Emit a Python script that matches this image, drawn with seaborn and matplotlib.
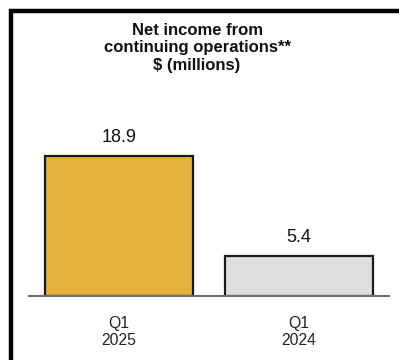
import matplotlib
matplotlib.use("Agg")
import matplotlib.pyplot as plt
import seaborn as sns
import pandas as pd
from matplotlib.lines import Line2D

categories = ["Q1\n2025", "Q1\n2024"]
values = [18.9, 5.4]
value_labels = ["18.9", "5.4"]
colors = ["#E3B23C", "#DEDEDE"]
title = "Net income from\ncontinuing operations**\n$ (millions)"

sns.set_style("white")
plt.rcParams['font.family'] = ['Liberation Sans', 'DejaVu Sans']

df = pd.DataFrame({"period": categories, "value": values})

fig = plt.figure(figsize=(3.99, 3.6), dpi=100)
ax = fig.add_axes([29/399, 1-295.5/360, 360/399, 180/360])

sns.barplot(data=df, x="period", y="value", hue="period", palette=colors,
            legend=False, width=0.82, edgecolor="#1a1a1a", linewidth=1.6,
            saturation=1, ax=ax)

ax.set_xlim(-0.5, 1.5)
ax.set_ylim(0, 180/7.4)
for s in ["top", "right", "left"]:
    ax.spines[s].set_visible(False)
ax.spines["bottom"].set_color("#6e6e6e")
ax.spines["bottom"].set_linewidth(1.5)
ax.set_yticks([])
ax.set_xlabel("")
ax.set_ylabel("")
ax.tick_params(axis="x", length=0, pad=15, labelsize=11.3, colors="#222222")
for t in ax.get_xticklabels():
    t.set_linespacing(1.1)

for i, (v, lab) in enumerate(zip(values, value_labels)):
    ax.annotate(lab, (i, v), xytext=(0, 7), textcoords="offset points",
                ha="center", va="bottom", fontsize=13, color="#111111")

fig.text(197/399, 1-23/360, title, ha="center", va="top", fontsize=12,
         fontweight="bold", color="#111111", linespacing=1.2)

# frame lines (top and left)
fig.add_artist(Line2D([9/399, 1], [1-11/360, 1-11/360], color="black",
                      linewidth=3.2, transform=fig.transFigure, solid_capstyle="butt"))
fig.add_artist(Line2D([11/399, 11/399], [0, 1-9/360], color="black",
                      linewidth=3.2, transform=fig.transFigure, solid_capstyle="butt"))

fig.savefig("out.png", dpi=100)
